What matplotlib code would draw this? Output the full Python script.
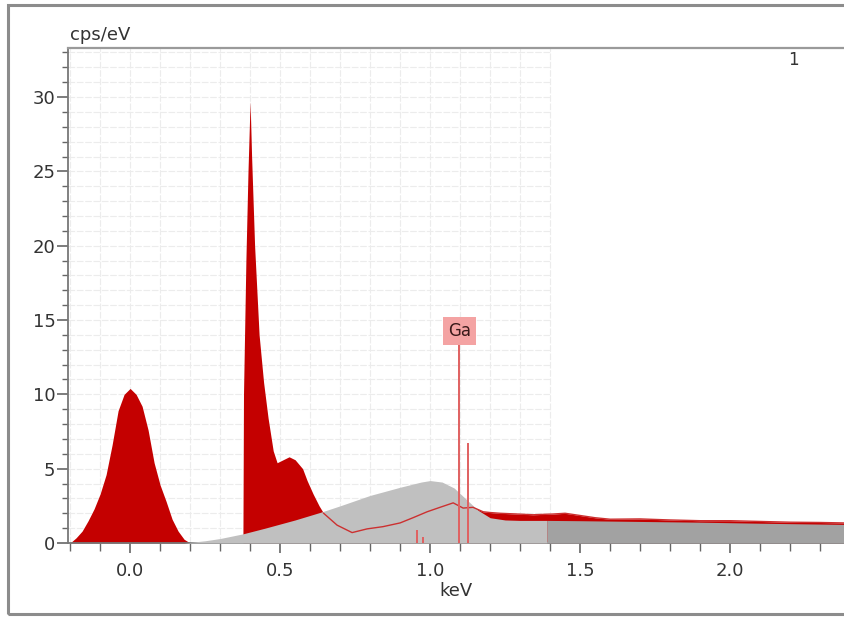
import numpy as np
import matplotlib
matplotlib.use("Agg")
import matplotlib.pyplot as plt
from matplotlib.ticker import MultipleLocator
from matplotlib.patches import Rectangle

# ---- data ----
red_energy = np.array([
    -0.20, -0.18, -0.16, -0.14, -0.12, -0.10, -0.08, -0.06, -0.04, -0.02, 0.00,
    0.02, 0.04, 0.06, 0.08, 0.10, 0.12, 0.14, 0.16, 0.18, 0.20,
    0.376, 0.378, 0.386, 0.393, 0.400, 0.405, 0.415, 0.430, 0.445, 0.460, 0.477,
    0.490, 0.510, 0.530, 0.550, 0.575, 0.590, 0.610, 0.630, 0.645,
    0.69, 0.74, 0.79, 0.843, 0.90, 0.943, 0.99, 1.033, 1.077, 1.11, 1.143, 1.177,
    1.20, 1.233, 1.29, 1.343, 1.41, 1.45, 1.50, 1.55, 1.60, 1.70, 1.80, 1.90,
    2.00, 2.10, 2.20, 2.30, 2.38])
red_counts = np.array([
    0.0, 0.35, 0.8, 1.5, 2.3, 3.3, 4.6, 6.6, 8.9, 10.0, 10.4,
    10.0, 9.2, 7.6, 5.4, 3.9, 2.8, 1.6, 0.8, 0.25, 0.0,
    0.0, 10.0, 19.0, 25.0, 29.7, 26.0, 20.0, 14.0, 10.8, 8.4, 6.2,
    5.4, 5.6, 5.8, 5.6, 5.0, 4.2, 3.3, 2.5, 2.0,
    1.2, 0.7, 0.95, 1.1, 1.35, 1.7, 2.1, 2.4, 2.7, 2.35, 2.4, 2.1,
    2.05, 2.0, 1.95, 1.9, 1.95, 2.0, 1.85, 1.7, 1.6, 1.62, 1.55, 1.5,
    1.5, 1.45, 1.4, 1.38, 1.35])

bkg_energy = np.array([0.18, 0.25, 0.30, 0.377, 0.45, 0.55, 0.64, 0.70, 0.80,
                       0.90, 0.97, 1.00, 1.04, 1.08, 1.12, 1.16, 1.20, 1.25,
                       1.30, 1.39, 1.50, 1.70, 1.90, 2.10, 2.38])
bkg_counts = np.array([0.0, 0.15, 0.3, 0.62, 1.0, 1.55, 2.1, 2.5, 3.2,
                       3.75, 4.1, 4.2, 4.1, 3.7, 2.95, 2.2, 1.7, 1.55,
                       1.52, 1.52, 1.5, 1.45, 1.4, 1.33, 1.25])
bkg_split = 1.39

ga_energy = [0.957, 0.976, 1.098, 1.125]
ga_height = [0.9, 0.4, 13.3, 6.7]
ga_label = "Ga"

x_ticks = [0.0, 0.5, 1.0, 1.5, 2.0]
y_ticks = [0, 5, 10, 15, 20, 25, 30]

# ---- figure ----
fig = plt.figure(figsize=(8.45, 6.17), dpi=100)
ax = fig.add_axes([68/845, 1-543/617, 1-68/845, (543-48)/617])

# outer frame
fig.patches.append(Rectangle((8/845, 3/617), 1.0, 1-8/617, transform=fig.transFigure,
                             fill=False, edgecolor='#8c8c8c', linewidth=2.2))

ax.set_xlim(-0.207, 2.383)
ax.set_ylim(0, 33.3)

# light grid (only to ~1.4 keV)
gx = np.arange(-0.2, 1.41, 0.1)
gy = np.arange(1, 34, 1)
ax.vlines(gx, 0, 33.3, colors='#ececec', linewidth=0.8, linestyles=(0, (6, 1.5)), zorder=0)
ax.hlines(gy, -0.207, 1.4, colors='#ececec', linewidth=0.8, linestyles=(0, (6, 1.5)), zorder=0)

red = '#c40000'
ax.fill_between(red_energy, 0, red_counts, color=red, linewidth=0, zorder=2)
ax.fill_between(bkg_energy, 0, bkg_counts, where=bkg_energy <= bkg_split,
                color='#c0c0c0', linewidth=0, zorder=3)
ax.fill_between(bkg_energy, 0, bkg_counts, where=bkg_energy >= bkg_split,
                color='#a2a2a2', linewidth=0, zorder=3)
m = red_energy >= 0.64
ax.plot(red_energy[m], red_counts[m], color='#cc3030', linewidth=1.0, zorder=4)

# Ga markers
ax.vlines(ga_energy, 0, ga_height, colors='#e06060', linewidth=1.4, zorder=5)
ax.text(ga_energy[2], ga_height[2] + 0.95, ga_label, ha='center', va='center',
        fontsize=12, color='#3a1a1a', zorder=6,
        bbox=dict(boxstyle='square,pad=0.3', facecolor='#f4a3a3', edgecolor='none'))

# spines
ax.spines['right'].set_visible(False)
ax.spines['top'].set_color('#9a9a9a')
ax.spines['top'].set_linewidth(1.6)
ax.spines['left'].set_color('#777777')
ax.spines['bottom'].set_color('#777777')
ax.spines['left'].set_linewidth(1.3)
ax.spines['bottom'].set_linewidth(1.3)

ax.set_xticks(x_ticks)
ax.set_xticklabels([f"{v:.1f}" for v in x_ticks])
ax.set_yticks(y_ticks)
ax.xaxis.set_minor_locator(MultipleLocator(0.1))
ax.yaxis.set_minor_locator(MultipleLocator(1))
ax.tick_params(axis='both', which='major', direction='out', color='#666666',
               labelcolor='#333333', labelsize=13)
ax.tick_params(axis='y', which='major', length=8, width=1.2, pad=1)
ax.tick_params(axis='y', which='minor', length=4, width=1.0, color='#666666')
ax.tick_params(axis='x', which='major', length=7, width=1.2, pad=7)
ax.tick_params(axis='x', which='minor', length=6, width=1.0, color='#666666')

ax.set_xlabel('keV', fontsize=13, color='#333333', labelpad=1)
ax.text(0.003, 1.008, 'cps/eV', transform=ax.transAxes, ha='left', va='bottom',
        fontsize=13, color='#333333')
ax.text(0.933, 0.976, '1', transform=ax.transAxes, ha='center', va='center',
        fontsize=12, color='#333333')

fig.savefig('out.png', dpi=100)
